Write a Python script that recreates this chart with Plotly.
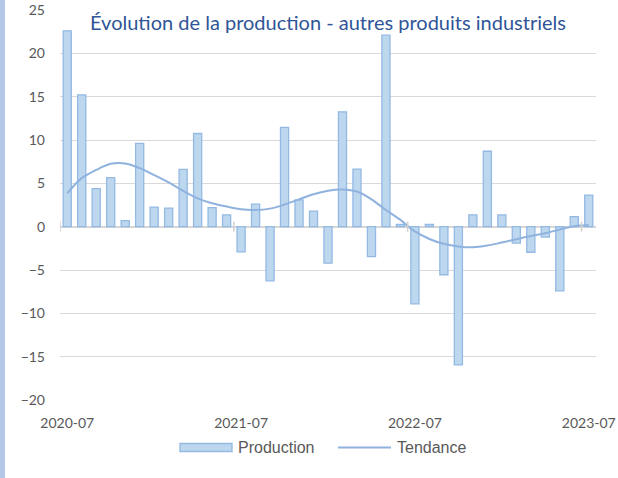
import pandas as pd
import plotly.graph_objects as go

months = [p.strftime("%Y-%m") for p in pd.period_range("2020-07", "2023-07", freq="M")]
tick_labels = ["2020-07", "2021-07", "2022-07", "2023-07"]

production = [22.6, 15.2, 4.4, 5.65, 0.7, 9.6, 2.25, 2.15, 6.6, 10.75,
              2.2, 1.35, -2.9, 2.6, -6.25, 11.45, 3.1, 1.8, -4.2, 13.25,
              6.65, -3.45, 22.1, 0.25, -8.9, 0.25, -5.55, -15.95, 1.35, 8.7,
              1.35, -1.9, -2.95, -1.2, -7.4, 1.15, 3.65]

tendance = [3.85, 5.6, 6.55, 7.25, 7.3, 6.75, 5.95, 5.1, 4.12, 3.27,
            2.7, 2.32, 2.0, 1.92, 2.08, 2.55, 3.15, 3.75, 4.15, 4.3,
            4.05, 3.15, 1.92, 0.78, -0.55, -1.42, -1.98, -2.28, -2.38, -2.18,
            -1.83, -1.45, -1.08, -0.76, -0.32, 0.06, 0.15]

title_text = "Évolution de la production - autres produits industriels"

L, R, T, B = 60, 22, 10, 78
W, H = 618, 478
pw, ph = W - L - R, H - T - B


def px_x(px):
    return (px - L) / pw


def px_y(py):
    return (H - B - py) / ph


fig = go.Figure()
fig.add_trace(go.Bar(
    x=months, y=production, name="Production", width=0.56,
    marker=dict(color="#bdd7ee", line=dict(color="#94b9e3", width=1.3)),
))
fig.add_trace(go.Scatter(
    x=months, y=tendance, name="Tendance", mode="lines",
    line=dict(color="#8fb2de", width=2, shape="spline"),
))

shapes = []
# boundary tick marks on the zero axis
for lab in tick_labels:
    i = months.index(lab)
    shapes.append(dict(type="line", xref="x", yref="y", x0=i - 0.5, x1=i - 0.5,
                       ysizemode="pixel", yanchor=0, y0=-5, y1=5,
                       line=dict(color="#d0d0d0", width=1.5)))
# left accent strip
shapes.append(dict(type="rect", xref="paper", yref="paper",
                   x0=px_x(0), x1=px_x(5), y0=px_y(H), y1=px_y(0),
                   fillcolor="#b4c7e7", line=dict(width=0), layer="below"))
# custom legend symbols
shapes.append(dict(type="rect", xref="paper", yref="paper",
                   x0=px_x(180), x1=px_x(232), y0=px_y(451.5), y1=px_y(443.5),
                   fillcolor="#bdd7ee", line=dict(color="#94b9e3", width=1.3)))
shapes.append(dict(type="line", xref="paper", yref="paper",
                   x0=px_x(338), x1=px_x(391), y0=px_y(447.5), y1=px_y(447.5),
                   line=dict(color="#8fb2de", width=2)))

annotations = [
    dict(text=title_text, xref="paper", yref="paper", x=px_x(327.5), y=px_y(22),
         xanchor="center", yanchor="middle", showarrow=False,
         font=dict(family="Lato", size=20, color="#2f5597")),
    dict(text="Production", xref="paper", yref="paper", x=px_x(236), y=px_y(447.5),
         xanchor="left", yanchor="middle", showarrow=False,
         font=dict(family="Liberation Sans", size=16, color="#595959")),
    dict(text="Tendance", xref="paper", yref="paper", x=px_x(395), y=px_y(447.5),
         xanchor="left", yanchor="middle", showarrow=False,
         font=dict(family="Liberation Sans", size=16, color="#595959")),
]

fig.update_layout(
    template="none",
    width=W, height=H,
    margin=dict(l=L, r=R, t=T, b=B, pad=0, autoexpand=False),
    paper_bgcolor="white", plot_bgcolor="white",
    showlegend=False,
    shapes=shapes, annotations=annotations,
    font=dict(family="Lato", size=14, color="#595959"),
    xaxis=dict(type="category", tickmode="array", tickvals=tick_labels, ticktext=tick_labels,
               showgrid=False, showline=False, zeroline=False, ticks="",
               automargin=False,
               range=[-0.5, len(months) - 0.5], ticklabelstandoff=13,
               tickfont=dict(family="Lato", size=14, color="#595959")),
    yaxis=dict(range=[-20, 25], dtick=5, tick0=0, showgrid=True, gridcolor="#d9d9d9",
               gridwidth=1, zeroline=True, zerolinecolor="#d6d6d6", zerolinewidth=1.5,
               showline=False, ticks="", ticklabelstandoff=14, automargin=False,
               tickfont=dict(family="Lato", size=14, color="#595959")),
)

fig.write_html("out.html",
               config={"displayModeBar": False},
               post_script="document.body.style.margin='0';document.body.style.padding='0';")
